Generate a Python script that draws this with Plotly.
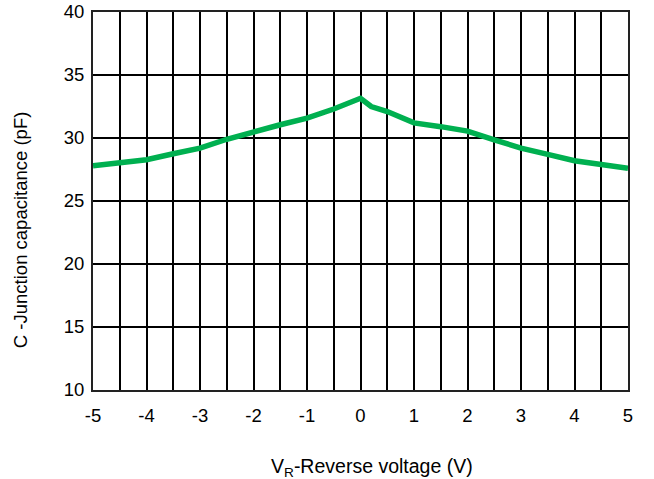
import plotly.graph_objects as go

# Data
voltage = [-5, -4.5, -4, -3.5, -3, -2.5, -2, -1.5, -1, -0.5, 0, 0.2, 0.5, 1, 1.5, 2, 2.5, 3, 3.5, 4, 4.5, 5]
capacitance = [27.8, 28.0, 28.27, 28.75, 29.2, 29.9, 30.5, 31.05, 31.58, 32.3, 33.15, 32.5, 32.1, 31.2, 30.9, 30.55, 29.85, 29.2, 28.7, 28.2, 27.9, 27.6]

x_ticks = [-5, -4, -3, -2, -1, 0, 1, 2, 3, 4, 5]
x_labels = ["-5", "-4", "-3", "-2", "-1", "0", "1", "2", "3", "4", "5"]
x_minor_grid = [-4.5, -3.5, -2.5, -1.5, -0.5, 0.5, 1.5, 2.5, 3.5, 4.5]
y_ticks = [10, 15, 20, 25, 30, 35, 40]
y_labels = ["10", "15", "20", "25", "30", "35", "40"]

x_title = "V<sub>R</sub>-Reverse voltage (V)"
y_title = "C -Junction capacitance (pF)"

FONT = "Liberation Sans, Arial, sans-serif"

fig = go.Figure()
fig.add_trace(go.Scatter(
    x=voltage, y=capacitance, mode="lines",
    line=dict(color="#00B050", width=5.5),
    hoverinfo="skip", showlegend=False,
))

fig.update_layout(
    width=654, height=479,
    margin=dict(l=93, r=26, t=12, b=89),
    paper_bgcolor="white", plot_bgcolor="white",
    font=dict(family=FONT, size=18, color="black"),
    xaxis=dict(
        range=[-5, 5], tickvals=x_ticks, ticktext=x_labels,
        showgrid=True, gridcolor="black", gridwidth=2,
        minor=dict(tickvals=x_minor_grid, showgrid=True, gridcolor="black", gridwidth=2, ticks=""),
        showline=True, linecolor="#222222", linewidth=2, mirror=True,
        zeroline=False, ticks="", ticklabelstandoff=8, automargin=False,
        ticklabeloverflow="allow",
        tickfont=dict(size=18.5, family=FONT),
    ),
    yaxis=dict(
        range=[10, 40], tickvals=y_ticks, ticktext=y_labels,
        showgrid=True, gridcolor="black", gridwidth=2,
        showline=True, linecolor="#222222", linewidth=2, mirror=True,
        zeroline=False, ticks="", ticklabelstandoff=3, automargin=False,
        ticklabeloverflow="allow",
        tickfont=dict(size=18.5, family=FONT),
    ),
    annotations=[
        dict(text=x_title, xref="paper", yref="paper", x=0.5215, y=-0.206,
             showarrow=False, font=dict(size=19.5, family=FONT), xanchor="center", yanchor="middle"),
        dict(text=y_title, xref="paper", yref="paper", x=-0.1364, y=0.423, textangle=-90,
             showarrow=False, font=dict(size=18.5, family=FONT), xanchor="center", yanchor="middle"),
    ],
)

fig.write_html(
    "out.html",
    config={"displayModeBar": False},
    post_script="document.body.style.margin='0';document.body.style.overflow='hidden';",
)
